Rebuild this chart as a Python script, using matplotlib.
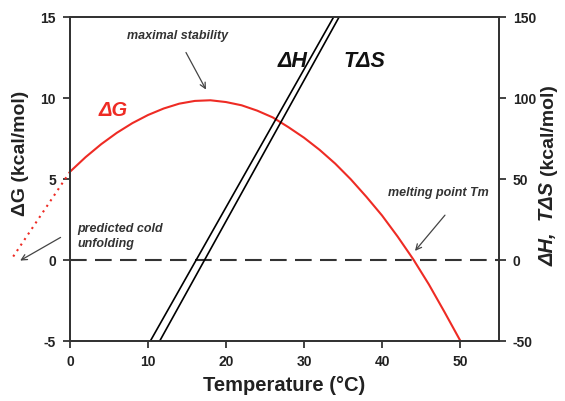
import numpy as np
import matplotlib.pyplot as plt

plt.rcParams['font.family'] = ['Liberation Sans', 'DejaVu Sans']
plt.rcParams['axes.unicode_minus'] = False

# Courbe de stabilité ΔG
temp = [0, 2, 4, 6, 8, 10, 12, 14, 16, 18, 20, 22, 24, 26, 28, 30,
        32, 34, 36, 38, 40, 42, 44, 46, 48, 50]
dG = [5.45, 6.35, 7.15, 7.85, 8.45, 8.95, 9.35, 9.65, 9.82, 9.86, 9.75,
      9.55, 9.22, 8.8, 8.2, 7.55, 6.8, 5.95, 4.98, 3.9, 2.75, 1.45, 0.05,
      -1.5, -3.2, -4.95]

# Extrapolation pointillée (dénaturation au froid)
cold_t = [0, -7.3]
cold_g = [5.45, 0.2]

# ΔH et TΔS (axe de droite)
dH_t = [10.3, 33.8]
dH_v = [-50, 150]
TdS_t = [11.5, 34.5]
TdS_v = [-50, 150]

xticks = [0, 10, 20, 30, 40, 50]
yticks_left = [-5, 0, 5, 10, 15]
yticks_right = [-50, 0, 50, 100, 150]

red = '#ee2b24'
dark = '#222222'

fig = plt.figure(figsize=(5.65, 4.01), dpi=100)
ax = fig.add_axes([0.1239, 0.1496, 0.7593, 0.808])
ax2 = ax.twinx()

# ligne zéro
ax.plot([0, 55], [0, 0], color='#333333', lw=1.5, dashes=(8, 4))

ax.plot(temp, dG, color=red, lw=1.5)
ax.plot(cold_t, cold_g, color=red, lw=1.5, linestyle=(0, (1, 2.2)), clip_on=False)

ax2.plot(dH_t, dH_v, color='black', lw=1.2)
ax2.plot(TdS_t, TdS_v, color='black', lw=1.2)

ax.set_xlim(0, 55)
ax.set_ylim(-5, 15)
ax2.set_ylim(-50, 150)

ax.set_xticks(xticks)
ax.set_yticks(yticks_left)
ax2.set_yticks(yticks_right)

for a in (ax, ax2):
    a.tick_params(direction='out', length=5, width=1.2, labelsize=10, pad=5,
                  colors=dark)
    for lab in a.get_xticklabels() + a.get_yticklabels():
        lab.set_fontweight('bold')
    for s in a.spines.values():
        s.set_linewidth(1.3)
        s.set_color('#333333')

ax.set_xlabel('Temperature (°C)', fontsize=14.5, fontweight='bold', color=dark, labelpad=5)

# étiquettes des axes y
fig.text(0.037, 0.617, 'ΔG (kcal/mol)', rotation=90, ha='center', va='center',
         fontsize=14, fontweight='bold', color=dark)
fig.text(0.970, 0.563, '(kcal/mol)', rotation=90, ha='center', va='bottom',
         fontsize=14, fontweight='bold', color=dark)
fig.text(0.970, 0.545, 'ΔH,  TΔS', rotation=90, ha='center', va='top',
         fontsize=14.5, fontweight='bold', style='italic', color=dark)

# libellés des courbes
ax.text(5.6, 9.2, 'ΔG', color=red, fontsize=14.5, fontweight='bold', style='italic',
        ha='center', va='center')
ax.text(28.6, 12.28, 'ΔH', color='#111111', fontsize=15.5, fontweight='bold',
        style='italic', ha='center', va='center')
ax.text(37.7, 12.28, 'TΔS', color='#111111', fontsize=15.5, fontweight='bold',
        style='italic', ha='center', va='center')

# annotations
note = dict(fontsize=9, fontweight='bold', style='italic', color='#333333')
arrow = dict(arrowstyle='->', color='#444444', lw=0.9)
ax.annotate('', xy=(17.6, 10.37), xytext=(14.7, 12.96), arrowprops=arrow)
ax.text(7.3, 13.83, 'maximal stability', ha='left', va='center', **note)

ax.annotate('', xy=(-6.7, -0.12), xytext=(-0.9, 1.48), arrowprops=arrow,
            annotation_clip=False)
ax.text(0.9, 1.9, 'predicted cold', ha='left', va='center', **note)
ax.text(0.9, 0.97, 'unfolding', ha='left', va='center', **note)

ax.annotate('', xy=(44.0, 0.43), xytext=(48.3, 2.9), arrowprops=arrow)
ax.text(40.8, 4.14, 'melting point Tm', ha='left', va='center', **note)

plt.savefig('out.png', dpi=100)
